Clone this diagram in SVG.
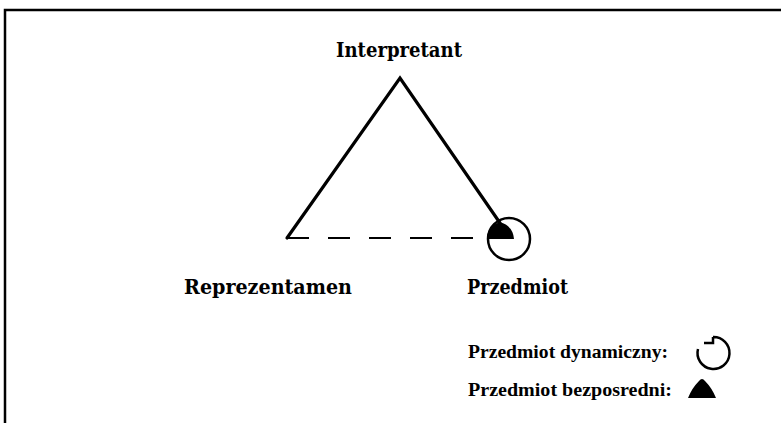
<svg xmlns="http://www.w3.org/2000/svg" width="781" height="423" viewBox="0 0 781 423">
<style>
.lbl{font-family:"DejaVu Serif","Liberation Serif",serif;font-weight:bold;font-size:20px;fill:#000}
.leg{font-family:"Liberation Serif","DejaVu Serif",serif;font-weight:bold;font-size:18px;fill:#000}
.edge{stroke:#000;stroke-width:3.2;fill:none;stroke-linecap:round}
</style>
<rect width="781" height="423" fill="#fff"/>
<g id="frame" fill="none" stroke="#000" stroke-width="2.5">
<path d="M5,423 V10 H781"/>
</g>
<g id="connectors">
<path class="edge" d="M287,238 L400,78 L500,223"/>
<path d="M287,238 H487" stroke="#000" stroke-width="2" stroke-dasharray="22 19"/>
</g>
<g id="interpretant"><text class="lbl" x="399" y="57" text-anchor="middle" textLength="126" lengthAdjust="spacingAndGlyphs">Interpretant</text></g>
<g id="reprezentamen"><text class="lbl" x="184" y="294" textLength="168" lengthAdjust="spacingAndGlyphs">Reprezentamen</text></g>
<g id="przedmiot">
<circle cx="509" cy="239" r="21" fill="none" stroke="#000" stroke-width="2.5"/>
<path d="M487,239 Q487,226 500,222 Q513,226 514,239 Z" fill="#000"/>
<text class="lbl" x="467" y="294" textLength="101" lengthAdjust="spacingAndGlyphs">Przedmiot</text>
</g>
<g id="legend">
<text class="leg" x="468" y="358" textLength="200" lengthAdjust="spacingAndGlyphs">Przedmiot dynamiczny:</text>
<path d="M713,337 A16,16 0 1 1 698,349 M713,337 V343 H704" fill="none" stroke="#000" stroke-width="2.5"/>
<text class="leg" x="468" y="396" textLength="204" lengthAdjust="spacingAndGlyphs">Przedmiot bezposredni:</text>
<path d="M688,398 Q692,388 699,381 Q702,377 705,381 Q712,388 716,398 Z" fill="#000"/>
</g>
</svg>
